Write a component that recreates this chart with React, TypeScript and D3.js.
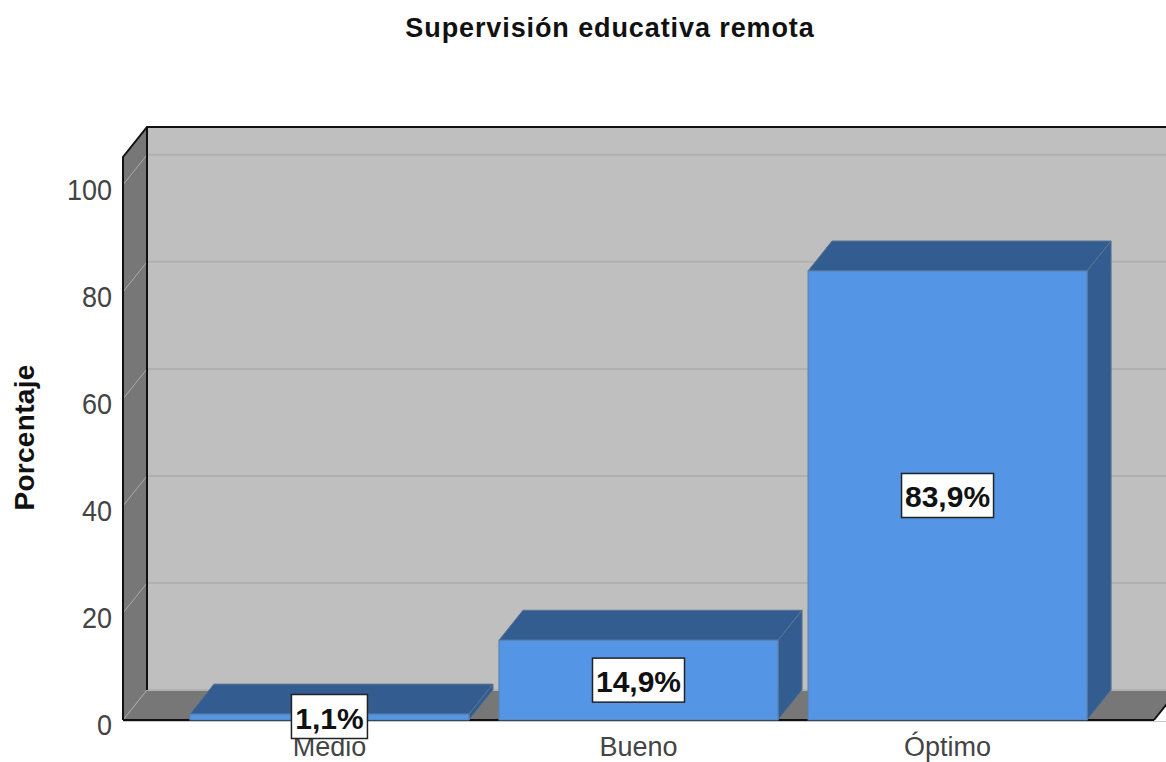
import * as d3 from 'd3';

const categories = ['Medio', 'Bueno', 'Óptimo'];
const percentages = [1.1, 14.9, 83.9];
const percentLabels = ['1,1%', '14,9%', '83,9%'];
const yTicks = [0, 20, 40, 60, 80, 100];

const width = 1166;
const height = 762;
const font = '"Liberation Sans", Arial, sans-serif';

// oblique offset of the 3D box
const depthX = 24;
const depthY = -30;

const y = d3.scaleLinear().domain([0, 105.2]).range([720, 157]);
const x = d3.scaleBand<string>()
  .domain(categories)
  .range([123, 1154])
  .paddingInner(0.097)
  .paddingOuter(0.2165);

const poly = (pts: [number, number][]) => d3.line()(pts) + 'Z';

export default function App() {
  const [x0, x1] = x.range();
  const y0 = y(0);
  const yTop = y(y.domain()[1]);

  return (
    <svg
      width={width}
      height={height}
      style={{ position: 'absolute', left: 0, top: 0, background: '#fff' }}
    >
      <text x={610} y={37} textAnchor="middle" fontFamily={font} fontSize={27} letterSpacing={0.9} fontWeight="bold" fill="#111">
        Supervisión educativa remota
      </text>

      {/* back wall, side wall, floor */}
      <path d={poly([[x0 + depthX, yTop + depthY], [x1 + depthX, yTop + depthY], [x1 + depthX, y0 + depthY], [x0 + depthX, y0 + depthY]])} fill="#bfbfbf" />
      <path d={poly([[x0, yTop], [x0 + depthX, yTop + depthY], [x0 + depthX, y0 + depthY], [x0, y0]])} fill="#777777" />
      <path d={poly([[x0, y0], [x0 + depthX, y0 + depthY], [x1 + depthX, y0 + depthY], [x1, y0]])} fill="#777777" />

      {yTicks.map((t) => (
        <g key={t}>
          <line x1={x0 + depthX} x2={x1 + depthX} y1={y(t) + depthY} y2={y(t) + depthY} stroke="#b0b0b0" strokeWidth={2} />
          <line x1={x0} x2={x0 + depthX} y1={y(t)} y2={y(t) + depthY} stroke="#aaaaaa" strokeWidth={1} />
          <text
            transform={`translate(112,${y(t) + 15}) scale(0.9,1)`}
            textAnchor="end"
            fontFamily={font}
            fontSize={30}
            fill="#444"
          >
            {t}
          </text>
        </g>
      ))}

      {/* frame */}
      <path
        d={`M${x0},${y0}V${yTop}L${x0 + depthX},${yTop + depthY}H${x1 + depthX}`}
        fill="none"
        stroke="#111"
        strokeWidth={2}
      />
      <line x1={x0 + depthX} x2={x0 + depthX} y1={yTop + depthY} y2={y0 + depthY} stroke="#111" strokeWidth={2} />
      <line x1={x0} x2={x1} y1={y0} y2={y0} stroke="#111" strokeWidth={2} />
      <line x1={x1} x2={x1 + depthX} y1={y0} y2={y0 + depthY} stroke="#111" strokeWidth={2} />

      {/* bars */}
      {categories.map((c, i) => {
        const left = x(c)!;
        const right = left + x.bandwidth();
        const top = y(percentages[i]);
        return (
          <g key={c}>
            <path d={poly([[left, top], [left + depthX, top + depthY], [right + depthX, top + depthY], [right, top]])} fill="#335c90" stroke="#5b7591" strokeWidth={1} />
            <path d={poly([[right, top], [right + depthX, top + depthY], [right + depthX, y0 + depthY], [right, y0]])} fill="#335c90" stroke="#5b7591" strokeWidth={1} />
            <rect x={left} y={top} width={x.bandwidth()} height={y0 - top} fill="#5495e6" stroke="#5a80a8" strokeWidth={1} />
          </g>
        );
      })}

      <line x1={x0} x2={x1 + 12} y1={y0 + 1.5} y2={y0 + 1.5} stroke="#c8c8c8" strokeWidth={1} />

      {/* category labels */}
      {categories.map((c) => (
        <text key={c} x={x(c)! + x.bandwidth() / 2} y={756} textAnchor="middle" fontFamily={font} fontSize={27} fill="#444">
          {c}
        </text>
      ))}

      {/* value labels */}
      {categories.map((c, i) => {
        const cx = x(c)! + x.bandwidth() / 2;
        const cy = Math.min((y(percentages[i]) + y0) / 2, 716.5);
        const w = percentLabels[i].length === 4 ? 76 : 92;
        return (
          <g key={c}>
            <rect x={cx - w / 2} y={cy - 22} width={w} height={44} fill="#fff" stroke="#222" strokeWidth={1.5} />
            <text x={cx} y={cy + 12} textAnchor="middle" fontFamily={font} fontSize={30} fontWeight="bold" fill="#111">
              {percentLabels[i]}
            </text>
          </g>
        );
      })}

      <text
        transform="translate(33.5,437.5) rotate(-90)"
        textAnchor="middle"
        fontFamily={font}
        fontSize={28}
        letterSpacing={0.3}
        fontWeight="bold"
        fill="#111"
      >
        Porcentaje
      </text>
    </svg>
  );
}
